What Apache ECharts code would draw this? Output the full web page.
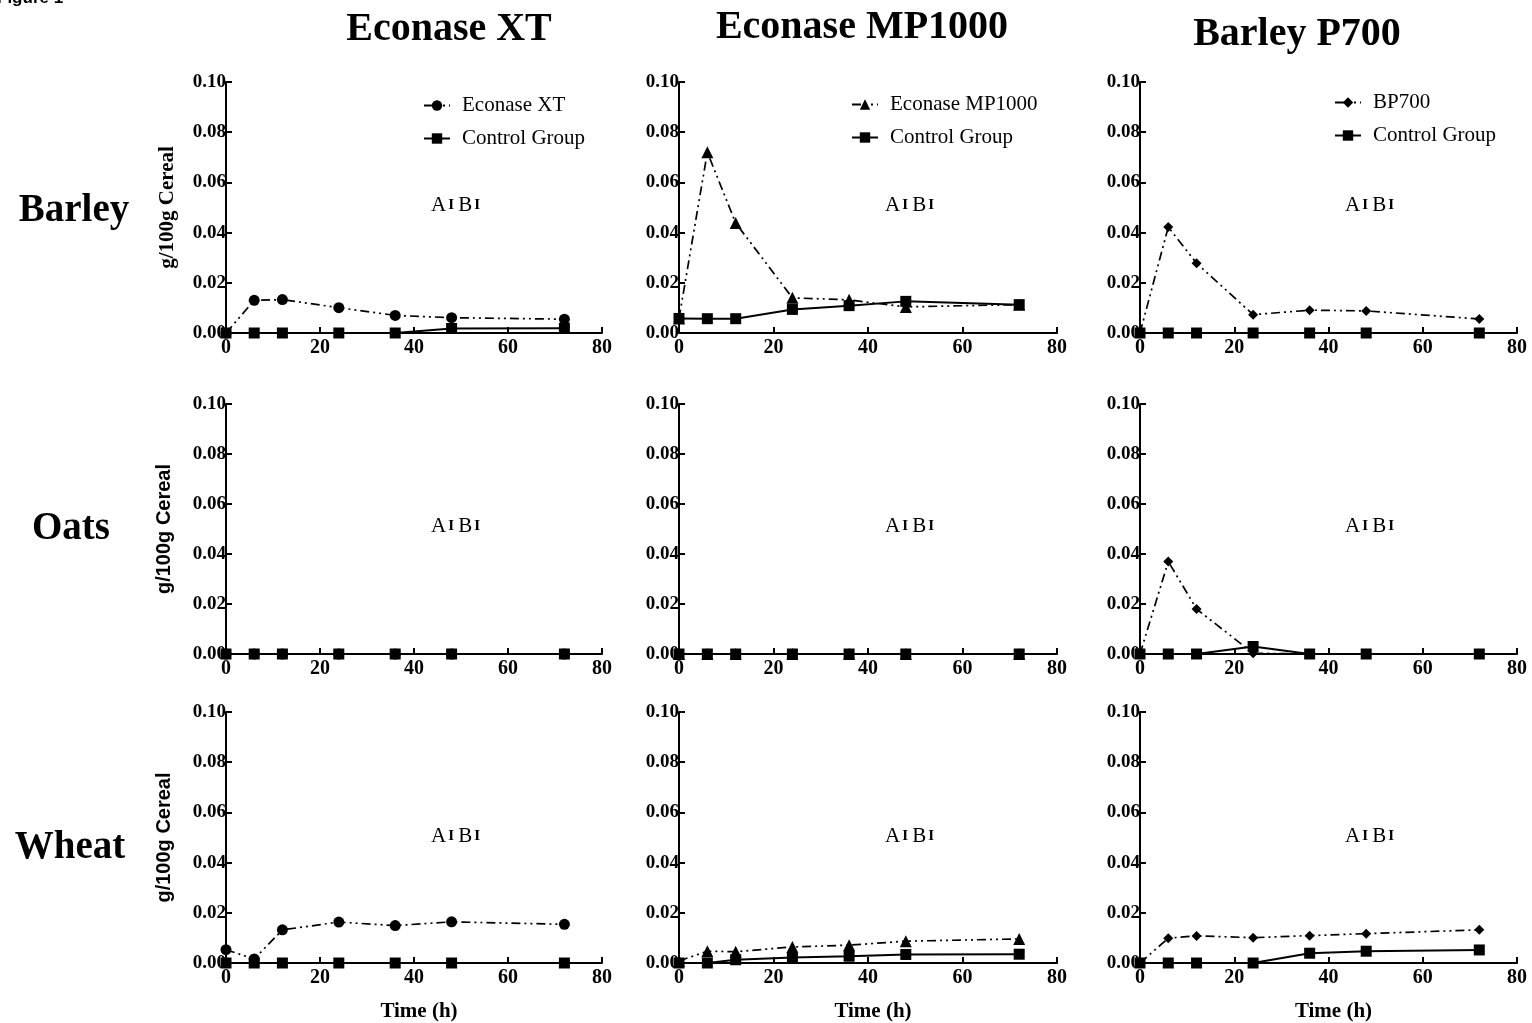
<!DOCTYPE html>
<html><head><meta charset="utf-8">
<script src="https://cdn.jsdelivr.net/npm/echarts@6/dist/echarts.min.js"></script>
<style>html,body{margin:0;padding:0;background:#fff}#c{width:1532px;height:1023px}</style>
</head><body><div id="c"></div>
<script>
// ---- data ----
const times = [0, 6, 12, 24, 36, 48, 72];
const xTicks = [0, 20, 40, 60, 80];
const yTicks = [0, 0.02, 0.04, 0.06, 0.08, 0.10];
const columnTitles = ['Econase XT', 'Econase MP1000', 'Barley P700'];
const rowTitles = ['Barley', 'Oats', 'Wheat'];
const treatmentNames = ['Econase XT', 'Econase MP1000', 'BP700'];
const controlName = 'Control Group';

const barleyXT        = [0, 0.0130, 0.0133, 0.0101, 0.0070, 0.0061, 0.0055];
const barleyXTCtrl    = [0, 0, 0, 0, 0, 0.0018, 0.0019];
const barleyMP        = [0.0058, 0.0720, 0.0438, 0.0140, 0.0132, 0.0104, 0.0113];
const barleyMPCtrl    = [0.0058, 0.0057, 0.0057, 0.0094, 0.0109, 0.0126, 0.0113];
const barleyBP        = [0, 0.0422, 0.0278, 0.0073, 0.0091, 0.0088, 0.0056];
const barleyBPCtrl    = [0, 0, 0, 0, 0, 0, 0];

const oatsXT          = [0, 0, 0, 0, 0, 0, 0];
const oatsXTCtrl      = [0, 0, 0, 0, 0, 0, 0];
const oatsMP          = [0, 0, 0, 0, 0, 0, 0];
const oatsMPCtrl      = [0, 0, 0, 0, 0, 0, 0];
const oatsBP          = [0, 0.0370, 0.0180, 0.0003, 0, 0, 0];
const oatsBPCtrl      = [0, 0, 0, 0.0030, 0, 0, 0];

const wheatXT         = [0.0053, 0.0016, 0.0132, 0.0163, 0.0149, 0.0164, 0.0154];
const wheatXTCtrl     = [0, 0, 0, 0, 0, 0, 0];
const wheatMP         = [0.0008, 0.0047, 0.0045, 0.0064, 0.0071, 0.0087, 0.0096];
const wheatMPCtrl     = [0, 0, 0.0013, 0.0022, 0.0027, 0.0034, 0.0035];
const wheatBP         = [0, 0.0099, 0.0108, 0.0101, 0.0109, 0.0117, 0.0132];
const wheatBPCtrl     = [0, 0, 0, 0, 0.0039, 0.0047, 0.0052];

const treatments = [[barleyXT, barleyMP, barleyBP], [oatsXT, oatsMP, oatsBP], [wheatXT, wheatMP, wheatBP]];
const controls = [[barleyXTCtrl, barleyMPCtrl, barleyBPCtrl], [oatsXTCtrl, oatsMPCtrl, oatsBPCtrl], [wheatXTCtrl, wheatMPCtrl, wheatBPCtrl]];

// ---- layout ----
const colLeft = [226, 679, 1140];
const colWidth = [376, 378, 377];
const rowTop = [82, 404, 712];
const rowHeight = [251, 250, 252];
const symbols = ['circle', 'triangle', 'diamond'];
const symbolSizes = [11, 12, 10];
const serif = '"Liberation Serif", "Times New Roman", serif';
const sans = '"Liberation Sans", Arial, sans-serif';

const grids = [], xAxes = [], yAxes = [], series = [], graphics = [];
const dashPattern = [9, 4, 2, 4, 2, 4];

for (let r = 0; r < 3; r++) {
  for (let c = 0; c < 3; c++) {
    const idx = r * 3 + c;
    grids.push({left: colLeft[c], top: rowTop[r], width: colWidth[c], height: rowHeight[r], containLabel: false});
    xAxes.push({
      type: 'value', gridIndex: idx, min: xTicks[0], max: xTicks[xTicks.length - 1], interval: 20,
      axisLine: {show: true, onZero: false, lineStyle: {color: '#000', width: 2}},
      axisTick: {show: true, inside: true, length: 6, lineStyle: {color: '#000', width: 2}},
      axisLabel: {color: '#000', fontFamily: serif, fontWeight: 'bold', fontSize: 20, margin: 5},
      splitLine: {show: false},
      name: r === 2 ? 'Time (h)' : '', nameLocation: 'middle', nameGap: 38,
      nameTextStyle: {color: '#000', fontFamily: serif, fontWeight: 'bold', fontSize: 21, padding: [0, 0, 0, 10]}
    });
    yAxes.push({
      type: 'value', gridIndex: idx, min: yTicks[0], max: yTicks[yTicks.length - 1], interval: 0.02,
      axisLine: {show: true, lineStyle: {color: '#000', width: 2}},
      axisTick: {show: true, inside: true, length: 6, lineStyle: {color: '#000', width: 2}},
      axisLabel: {color: '#000', fontFamily: serif, fontWeight: 'bold', fontSize: 19, margin: 0,
                  formatter: v => v.toFixed(2)},
      splitLine: {show: false},
      name: c === 0 ? 'g/100g Cereal' : '', nameLocation: 'middle', nameGap: r === 0 ? 48 : 52, nameRotate: 90,
      nameTextStyle: {color: '#000', fontFamily: r === 0 ? serif : sans, fontWeight: 'bold', fontSize: r === 0 ? 21 : 20}
    });
    series.push({
      type: 'line', name: treatmentNames[c], xAxisIndex: idx, yAxisIndex: idx,
      data: times.map((t, i) => [t, treatments[r][c][i]]),
      symbol: symbols[c], symbolSize: symbolSizes[c], showSymbol: true,
      itemStyle: {color: '#000'}, lineStyle: {color: '#000', width: 1.7, type: dashPattern},
      z: 2, animation: false
    });
    series.push({
      type: 'line', name: controlName, xAxisIndex: idx, yAxisIndex: idx,
      data: times.map((t, i) => [t, controls[r][c][i]]),
      symbol: 'rect', symbolSize: 11, showSymbol: true,
      itemStyle: {color: '#000'}, lineStyle: {color: '#000', width: 2, type: 'solid'},
      z: 3, animation: false
    });
  }
}

// annotation "A I B I"
const annoLeft = [431, 885, 1345];
const annoY = [207, 528, 838];
for (let r = 0; r < 3; r++) for (let c = 0; c < 3; c++) {
  graphics.push({
    type: 'text', left: annoLeft[c], top: annoY[r] - 12,
    style: {
      text: '{a|A}{i|I} {a|B}{i|I}',
      rich: {
        a: {fontFamily: serif, fontSize: 21, fill: '#000'},
        i: {fontFamily: serif, fontSize: 15, fontWeight: 'bold', fill: '#000', padding: [0, 1, 0, 2]}
      }
    }
  });
}
// column titles
const colTitleCenter = [449, 862, 1297];
const colTitleTop = [10, 8, 15];
columnTitles.forEach((t, c) => graphics.push({
  type: 'text', x: colTitleCenter[c], y: colTitleTop[c],
  style: {text: t, fontFamily: serif, fontWeight: 'bold', fontSize: 40, fill: '#000', textAlign: 'center'}
}));
// row titles
const rowTitleCenter = [74, 71, 70];
const rowTitleY = [211, 529, 848];
rowTitles.forEach((t, r) => graphics.push({
  type: 'text', x: rowTitleCenter[r], y: rowTitleY[r],
  style: {text: t, fontFamily: serif, fontWeight: 'bold', fontSize: 39, fill: '#000', textAlign: 'center', textVerticalAlign: 'middle'}
}));
// figure label, cut off at top
graphics.push({type: 'text', x: -3, y: 7, style: {text: 'Figure 1', fontFamily: sans, fontWeight: 'bold', fontSize: 17, fill: '#000', textVerticalAlign: 'bottom'}});

const legendLeft = [418, 846, 1329];
const legendTop = [90, 89, 87];
const legends = legendLeft.map((l, c) => ({
  left: l, top: legendTop[c], orient: 'vertical', itemGap: 12, itemWidth: 26, itemHeight: 13,
  data: [treatmentNames[c], controlName], selectedMode: false,
  textStyle: {fontFamily: serif, fontSize: 21, color: '#000', padding: [0, 0, 0, 7]}
}));

const chart = echarts.init(document.getElementById('c'), null, {renderer: 'canvas'});
chart.setOption({
  backgroundColor: '#fff', animation: false,
  grid: grids, xAxis: xAxes, yAxis: yAxes, series: series, legend: legends, graphic: graphics
});
</script></body></html>
